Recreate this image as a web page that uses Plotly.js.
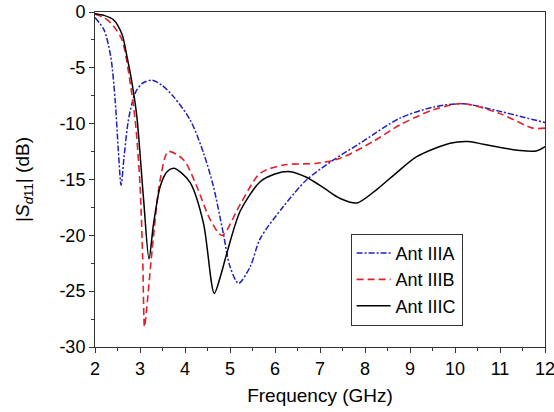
<!DOCTYPE html>
<html><head><meta charset="utf-8">
<script src="https://cdn.plot.ly/plotly-3.0.1.min.js"></script>
<style>body{margin:0;background:#fff}#c{width:554px;height:412px}</style>
</head><body><div id="c"></div>
<script>
const freqA = [2.0, 2.2, 2.35, 2.45, 2.52, 2.58, 2.65, 2.75, 2.9, 3.05, 3.27, 3.5, 3.75, 4.12, 4.41, 4.63, 4.85, 5.0, 5.19, 5.45, 5.67, 6.19, 6.71, 7.3, 7.89, 8.78, 9.52, 10.18, 11.0, 11.5, 12.0];
const s11A  = [-0.5, -1.6, -4.0, -8.0, -12.5, -15.5, -12.8, -9.5, -7.2, -6.4, -6.1, -6.6, -7.6, -9.7, -12.6, -15.6, -19.8, -22.8, -24.3, -22.8, -20.3, -17.4, -15.0, -13.25, -11.75, -9.5, -8.52, -8.22, -8.9, -9.4, -9.9];

const freqB = [2.0, 2.2, 2.4, 2.6, 2.75, 2.9, 3.0, 3.06, 3.1, 3.15, 3.27, 3.45, 3.63, 3.97, 4.26, 4.56, 4.82, 5.23, 5.67, 6.19, 6.93, 7.45, 8.18, 8.78, 9.52, 10.18, 11.0, 11.73, 12.0];
const s11B  = [-0.2, -0.5, -1.2, -2.5, -5.5, -9.96, -15.5, -22.0, -28.2, -26.5, -21.3, -15.0, -12.5, -13.25, -15.6, -18.6, -20.0, -17.2, -14.45, -13.7, -13.55, -13.1, -11.6, -10.1, -8.76, -8.2, -9.1, -10.4, -10.4];

const freqC = [2.0, 2.2, 2.41, 2.6, 2.71, 2.82, 2.93, 3.08, 3.2, 3.3, 3.45, 3.6, 3.75, 3.92, 4.12, 4.41, 4.65, 4.8, 4.93, 5.23, 5.67, 6.0, 6.34, 6.7, 7.1, 7.45, 7.82, 8.26, 8.7, 9.15, 9.89, 10.3, 10.63, 11.44, 11.8, 12.0];
const s11C  = [-0.15, -0.3, -0.69, -2.0, -3.98, -6.3, -9.36, -16.8, -22.1, -19.0, -15.6, -14.3, -14.0, -14.4, -15.3, -18.9, -25.2, -23.5, -21.6, -17.8, -15.2, -14.5, -14.3, -14.8, -15.8, -16.7, -17.1, -15.9, -14.4, -12.95, -11.75, -11.6, -11.84, -12.4, -12.45, -12.05];

const seriesNames = ['Ant IIIA', 'Ant IIIB', 'Ant IIIC'];
const xTicks = [2, 3, 4, 5, 6, 7, 8, 9, 10, 11, 12];
const yTickVals = [0, -5, -10, -15, -20, -25, -30];
const yTickText = ['0', '-5', '-10', '-15', '-20', '-25', '-30'];

const font = {family: 'Liberation Sans, Arial, sans-serif', color: '#000'};
const traces = [
  {x: freqA, y: s11A, name: seriesNames[0], mode: 'lines',
   line: {color: '#1f1fbf', width: 1.5, dash: '6px,2px,2px,2px', shape: 'spline', smoothing: 0.8}},
  {x: freqB, y: s11B, name: seriesNames[1], mode: 'lines',
   line: {color: '#e0202a', width: 1.6, dash: '7px,4px', shape: 'spline', smoothing: 0.8}},
  {x: freqC, y: s11C, name: seriesNames[2], mode: 'lines',
   line: {color: '#000', width: 1.5, shape: 'spline', smoothing: 0.8}}
];
const layout = {
  width: 554, height: 412,
  margin: {l: 95, r: 9, t: 12, b: 65},
  paper_bgcolor: '#fff', plot_bgcolor: '#fff',
  font: Object.assign({size: 18}, font),
  showlegend: true,
  legend: {x: 0.568, y: 0.338, xanchor: 'left', yanchor: 'top',
    bordercolor: '#333', borderwidth: 1, bgcolor: '#fff',
    font: Object.assign({size: 18}, font), tracegroupgap: 0, itemwidth: 34},
  xaxis: {range: [2, 12], tickvals: xTicks, ticks: 'outside', ticklen: 5, tickwidth: 1,
    tickcolor: '#333', showline: true, linecolor: '#333', linewidth: 1, mirror: true,
    showgrid: false, zeroline: false, tickfont: Object.assign({size: 18}, font),
    ticklabeloverflow: 'allow',
    minor: {dtick: 0.5, tick0: 2, ticks: 'outside', ticklen: 3, tickcolor: '#333', showgrid: false},
    title: {text: 'Frequency (GHz)', font: Object.assign({size: 19}, font), standoff: 11}},
  yaxis: {range: [-30, 0], tickvals: yTickVals, ticktext: yTickText, ticks: 'outside', ticklen: 5, tickwidth: 1,
    tickcolor: '#333', showline: true, linecolor: '#333', linewidth: 1, mirror: true,
    showgrid: false, zeroline: false, tickfont: Object.assign({size: 18}, font),
    minor: {dtick: 2.5, tick0: 0, ticks: 'outside', ticklen: 3, tickcolor: '#333', showgrid: false},
    title: {text: '|<i>S</i><sub><i>d</i>11</sub>| (dB)', font: Object.assign({size: 19}, font), standoff: 24}}
};
Plotly.newPlot('c', traces, layout, {displayModeBar: false, staticPlot: true});
</script></body></html>
